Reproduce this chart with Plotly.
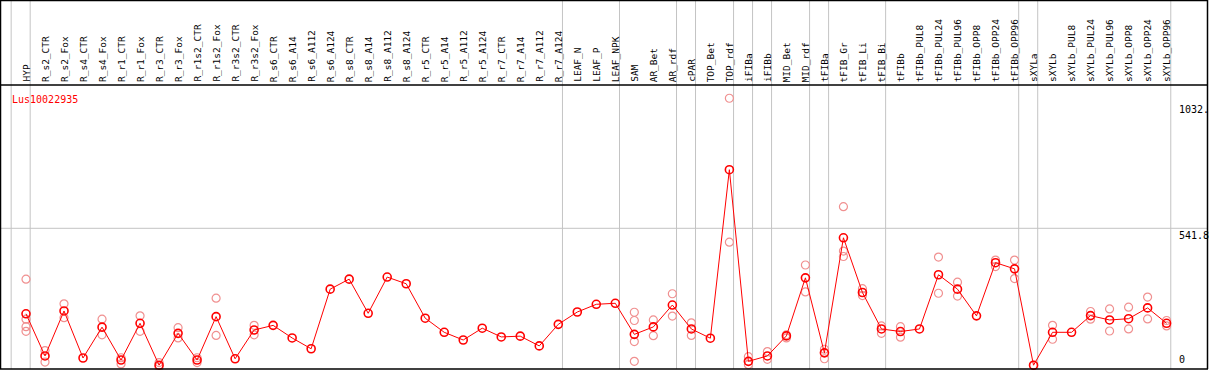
import plotly.graph_objects as go

W, H = 1209, 370

categories = ["HYP", "R_s2_CTR", "R_s2_Fox", "R_s4_CTR", "R_s4_Fox", "R_r1_CTR", "R_r1_Fox",
              "R_r3_CTR", "R_r3_Fox", "R_r1s2_CTR", "R_r1s2_Fox", "R_r3s2_CTR", "R_r3s2_Fox",
              "R_s6_CTR", "R_s6_A14", "R_s6_A112", "R_s6_A124", "R_s8_CTR", "R_s8_A14",
              "R_s8_A112", "R_s8_A124", "R_r5_CTR", "R_r5_A14", "R_r5_A112", "R_r5_A124",
              "R_r7_CTR", "R_r7_A14", "R_r7_A112", "R_r7_A124", "LEAF_N", "LEAF_P", "LEAF_NPK",
              "SAM", "AR_Bet", "AR_rdf", "cPAR", "TOP_Bet", "TOP_rdf", "iFIBa", "iFIBb",
              "MID_Bet", "MID_rdf", "tFIBa", "tFIB_Gr", "tFIB_Li", "tFIB_Bi", "tFIBb",
              "tFIBb_PUL8", "tFIBb_PUL24", "tFIBb_PUL96", "tFIBb_OPP8", "tFIBb_OPP24",
              "tFIBb_OPP96", "sXYLa", "sXYLb", "sXYLb_PUL8", "sXYLb_PUL24", "sXYLb_PUL96",
              "sXYLb_OPP8", "sXYLb_OPP24", "sXYLb_OPP96"]

mean_values = [209, 45, 220, 37, 157, 29, 172, 9, 133, 29, 198, 34, 146,
               164, 115, 73, 305, 344, 211, 352, 326, 192, 137, 107, 153,
               119, 122, 84, 168, 216, 246, 250,
               129, 158, 243, 150, 114, 770, 24, 45, 123, 349, 57, 505, 292, 150,
               140, 150, 361, 305, 201, 408, 384,
               9, 137, 137, 202, 185, 190, 232, 172]

replicates = [[344, 188, 159, 141], [66, 21], [248, 194], [], [188, 127], [38, 14], [201, 141],
              [19, 3], [155, 115], [38, 19], [270, 125], [], [164, 127],
              [], [], [], [], [], [], [], [], [], [], [], [],
              [], [], [], [], [], [], [],
              [215, 183, 101, 24], [185, 124], [287, 200], [174, 125], [], [1048, 488],
              [42, 11], [62, 32], [127, 115], [399, 294], [71, 34], [626, 453, 432],
              [307, 280], [162, 133],
              [159, 118], [], [430, 289], [332, 278], [], [418, 393], [418, 346],
              [8], [164, 110], [], [218, 188], [228, 142], [235, 150], [274, 189], [183, 162]]

group_sizes = [1, 28, 3, 3, 1, 2, 1, 1, 2, 1, 3, 7, 1, 7]

tick_values = [1032, 541.8, 0]
tick_labels = ["1032.", "541.8", "0"]
gene_name = "Lus10022935"

# ---- pixel geometry ----
x0_px, step_px = 26.0, 19.01          # pixel of first category, pixels per category
y0_px, scale_px = 367.5, 0.2569       # pixel of value 0, pixels per unit
header_px = 85

xr = [(0 - x0_px) / step_px, (W - x0_px) / step_px]
yr = [(y0_px - H) / scale_px, y0_px / scale_px]

def py(p):
    return 1 - p / H

xs = list(range(len(categories)))
rx, ry = [], []
for i, reps in enumerate(replicates):
    for v in reps:
        rx.append(i)
        ry.append(v)

fig = go.Figure()
fig.add_trace(go.Scatter(x=rx, y=ry, mode="markers",
                         marker=dict(symbol="circle-open", size=8, color="#F09090",
                                     line=dict(width=1.2, color="#F09090")),
                         hoverinfo="skip", showlegend=False))
fig.add_trace(go.Scatter(x=xs, y=mean_values, mode="lines+markers",
                         line=dict(color="#FF0000", width=1),
                         marker=dict(symbol="circle-open", size=8, color="#FF0000",
                                     line=dict(width=1.6, color="#FF0000")),
                         showlegend=False))

shapes = []
grid = dict(color="#C4C4C4", width=1)
bounds = [-1]
c = -1
for g in group_sizes:
    c += g
    bounds.append(c)
for b in bounds:
    shapes.append(dict(type="line", xref="x", yref="paper", x0=b + 0.22, x1=b + 0.22,
                       y0=py(369), y1=1, line=grid, layer="below"))
shapes.append(dict(type="line", xref="paper", yref="y", x0=0, x1=1207 / W,
                   y0=tick_values[1], y1=tick_values[1], line=grid, layer="below"))
blk = dict(color="black", width=1.5)
shapes += [
    dict(type="line", xref="paper", yref="paper", x0=0, x1=1208 / W, y0=py(0.5), y1=py(0.5), line=blk),
    dict(type="line", xref="paper", yref="paper", x0=0, x1=1208 / W, y0=py(header_px), y1=py(header_px), line=blk),
    dict(type="line", xref="paper", yref="paper", x0=0, x1=1208 / W, y0=py(369), y1=py(369), line=blk),
    dict(type="line", xref="paper", yref="paper", x0=0.5 / W, x1=0.5 / W, y0=py(0), y1=py(369), line=blk),
    dict(type="line", xref="paper", yref="paper", x0=1207.5 / W, x1=1207.5 / W, y0=py(0), y1=py(369), line=blk),
]

annotations = []
mono = "DejaVu Sans Mono"
for i, name in enumerate(categories):
    annotations.append(dict(x=i, xref="x", y=py(header_px - 1), yref="paper", text=name,
                            textangle=-90, xanchor="center", yanchor="bottom",
                            showarrow=False, font=dict(family=mono, size=9.5, color="black")))
annotations.append(dict(x=10 / W, xref="paper", y=py(92), yref="paper", text=gene_name,
                        xanchor="left", yanchor="top", showarrow=False,
                        font=dict(family=mono, size=10, color="#FF0000")))
for v, t in zip(tick_values, tick_labels):
    annotations.append(dict(x=1177 / W, xref="paper", y=v, yref="y", text=t,
                            xanchor="left", yanchor="bottom" if v == 0 else "top",
                            yshift=1 if v == 0 else 0,
                            showarrow=False, font=dict(family=mono, size=10, color="black")))

fig.update_layout(
    width=W, height=H, margin=dict(l=0, r=0, t=0, b=0),
    paper_bgcolor="white", plot_bgcolor="white",
    xaxis=dict(range=xr, visible=False, domain=[0, 1]),
    yaxis=dict(range=yr, visible=False, domain=[0, 1]),
    shapes=shapes, annotations=annotations,
)

fig.write_html("out.html", config={"displayModeBar": False},
               post_script="document.body.style.margin='0';document.body.style.overflow='hidden';")
